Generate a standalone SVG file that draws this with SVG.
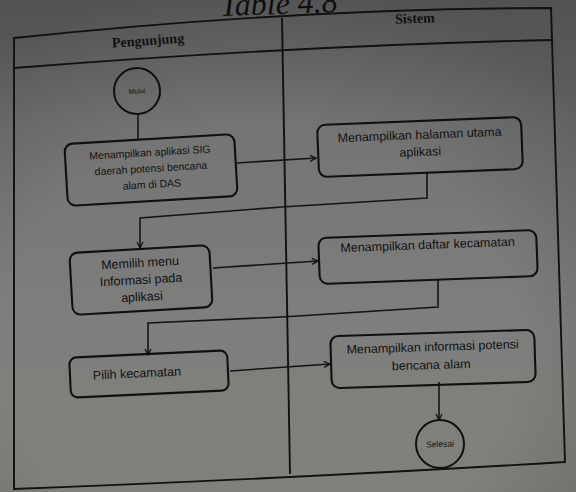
<svg xmlns="http://www.w3.org/2000/svg" width="576" height="492" viewBox="0 0 576 492">
  <defs>
    <linearGradient id="paper" x1="0" y1="0" x2="0" y2="1">
      <stop offset="0" stop-color="#646464"/>
      <stop offset="0.25" stop-color="#747474"/>
      <stop offset="0.65" stop-color="#7e7e7d"/>
      <stop offset="1" stop-color="#81817b"/>
    </linearGradient>
    <radialGradient id="shade" cx="0.45" cy="0.7" r="0.75">
      <stop offset="0.6" stop-color="#000" stop-opacity="0"/>
      <stop offset="1" stop-color="#000" stop-opacity="0.18"/>
    </radialGradient>
    <marker id="arrow" viewBox="0 0 8 8" refX="7" refY="4" markerWidth="8" markerHeight="8" markerUnits="userSpaceOnUse" orient="auto">
      <path d="M1,1 L7,4 L1,7" fill="none" stroke="#111" stroke-width="1.3"/>
    </marker>
  </defs>
  <style>
    .frame { fill: none; stroke: #111; stroke-width: 1.9; }
    .act { fill: none; stroke: #101010; stroke-width: 2.1; }
    .node { fill: none; stroke: #101010; stroke-width: 2; }
    .flow { fill: none; stroke: #141414; stroke-width: 1.6; }
    .lbl { font-family: "Liberation Sans", Arial, sans-serif; font-size: 12.5px; fill: #111; text-anchor: middle; }
    .sm { font-size: 10.5px; }
    .tiny { font-family: "Liberation Sans", Arial, sans-serif; font-size: 7px; fill: #111; text-anchor: middle; }
    .end-lbl { font-size: 8.5px; }
    .lane { font-family: "Liberation Serif", "Times New Roman", serif; font-weight: bold; font-size: 14px; fill: #111; text-anchor: middle; }
    .title { font-family: "Liberation Serif", "Times New Roman", serif; font-style: italic; font-size: 32px; fill: #0e0e0e; }
  </style>

  <!-- paper -->
  <rect x="0" y="0" width="576" height="492" fill="url(#paper)"/>
  <rect x="0" y="0" width="576" height="492" fill="url(#shade)"/>

  <!-- caption above the table (runs off the top edge) -->
  <text class="title" x="220" y="14" transform="rotate(-2 280 10)">Table 4.8</text>

  <!-- swimlane frame -->
  <g id="swimlanes">
    <path class="frame" d="M14,38 Q300,8 551,8 L565,462 Q300,478 14,489 Z"/>
    <path class="frame" d="M14,68 Q290,46 552,40"/>
    <path class="frame" d="M282,18 L290,474"/>
    <text class="lane" x="148" y="45" transform="rotate(-4 148 41)">Pengunjung</text>
    <text class="lane" x="415" y="23" transform="rotate(-2 415 19)">Sistem</text>
  </g>

  <!-- connectors -->
  <g id="connectors">
    <path class="flow" d="M138,114 L138,139"/>
    <path class="flow" d="M237,163 L316,158" marker-end="url(#arrow)"/>
    <path class="flow" d="M427,172 L427,198 L282,207 L140,218 L140,248" marker-end="url(#arrow)"/>
    <path class="flow" d="M213,268 L318,261" marker-end="url(#arrow)"/>
    <path class="flow" d="M438,280 L438,307 L282,317 L148,323 L148,355" marker-end="url(#arrow)"/>
    <path class="flow" d="M230,371 L330,364" marker-end="url(#arrow)"/>
    <path class="flow" d="M439,382 L439,420" marker-end="url(#arrow)"/>
  </g>

  <!-- start -->
  <g id="mulai" transform="translate(137,91) rotate(-3)">
    <circle class="node" cx="0" cy="0" r="23"/>
    <text class="tiny" x="0" y="2.5">Mulai</text>
  </g>

  <g id="tampil-aplikasi" transform="translate(151,170) rotate(-3.4)">
    <rect class="act" x="-85" y="-31" width="170" height="62" rx="8"/>
    <text class="lbl sm" x="0" y="-14">Menampilkan aplikasi SIG</text>
    <text class="lbl sm" x="0" y="2">daerah potensi bencana</text>
    <text class="lbl sm" x="0" y="18">alam di DAS</text>
  </g>

  <g id="tampil-halaman" transform="translate(420,147) rotate(-2.3)">
    <rect class="act" x="-102" y="-26" width="204" height="52" rx="8"/>
    <text class="lbl" x="0" y="-8">Menampilkan halaman utama</text>
    <text class="lbl" x="0" y="9">aplikasi</text>
  </g>

  <g id="pilih-menu" transform="translate(141,280) rotate(-3.3)">
    <rect class="act" x="-70" y="-31" width="140" height="62" rx="8"/>
    <text class="lbl" x="0" y="-13">Memilih menu</text>
    <text class="lbl" x="0" y="4">Informasi pada</text>
    <text class="lbl" x="0" y="21">aplikasi</text>
  </g>

  <g id="tampil-kecamatan" transform="translate(428,257) rotate(-2.1)">
    <rect class="act" x="-109" y="-23" width="218" height="46" rx="8"/>
    <text class="lbl" x="0" y="-8">Menampilkan daftar kecamatan</text>
  </g>

  <g id="pilih-kecamatan" transform="translate(149,374) rotate(-2.7)">
    <rect class="act" x="-79" y="-20" width="158" height="40" rx="7"/>
    <text class="lbl" x="-12" y="3">Pilih kecamatan</text>
  </g>

  <g id="tampil-informasi" transform="translate(433,359) rotate(-1.8)">
    <rect class="act" x="-102" y="-26" width="204" height="52" rx="8"/>
    <text class="lbl" x="0" y="-8">Menampilkan informasi potensi</text>
    <text class="lbl" x="-2" y="10">bencana alam</text>
  </g>

  <!-- end -->
  <g id="selesai" transform="translate(440,444) rotate(-2)">
    <circle class="node" cx="0" cy="0" r="24"/>
    <text class="tiny end-lbl" x="0" y="3">Selesai</text>
  </g>
</svg>
